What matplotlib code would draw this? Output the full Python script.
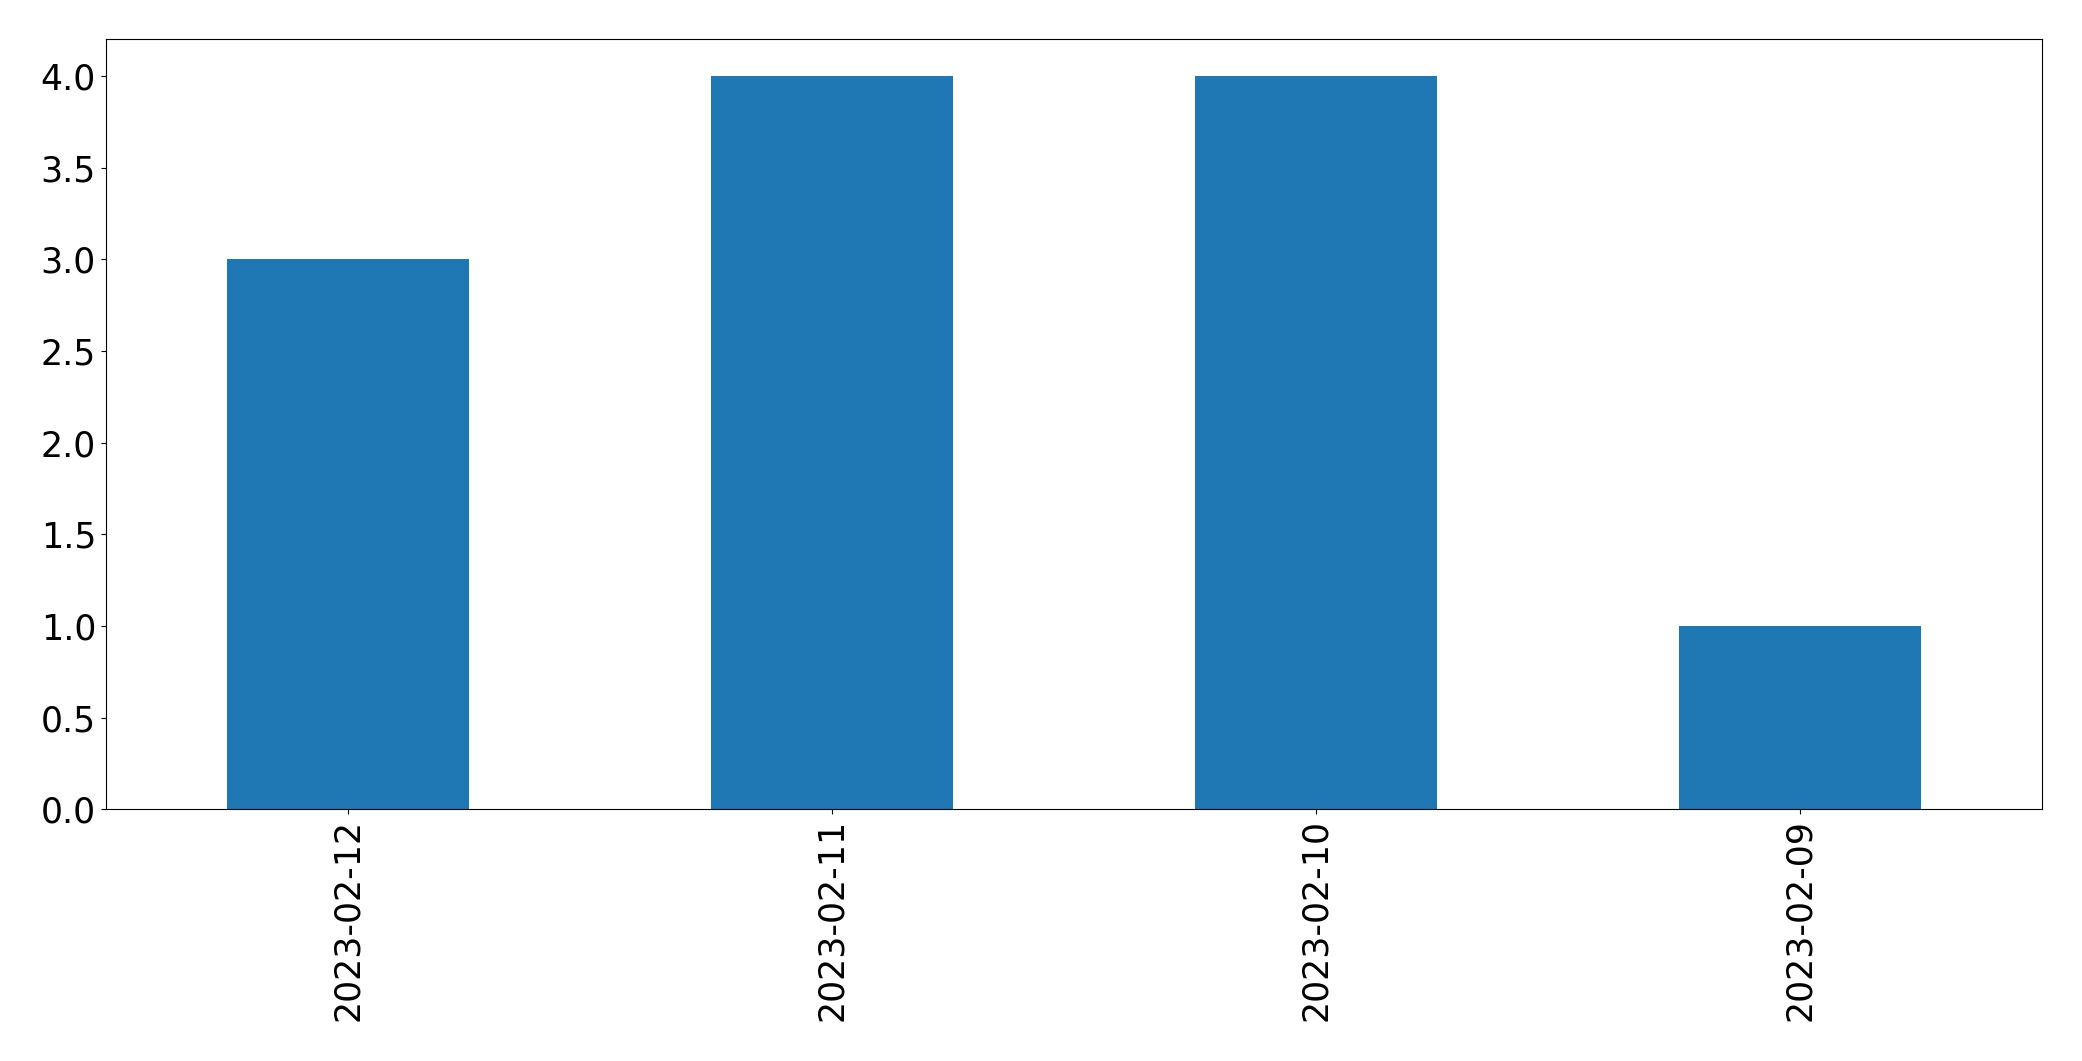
import matplotlib
matplotlib.use("Agg")
import matplotlib.pyplot as plt

dates = ["2023-02-12", "2023-02-11", "2023-02-10", "2023-02-09"]
counts = [3, 4, 4, 1]

fig = plt.figure(figsize=(20.82, 10.61), dpi=100)
ax = fig.add_axes([0.0508, 0.2372, 0.930, 0.7257])

x = range(len(dates))
ax.bar(x, counts, width=0.5, color="#1f77b4")
ax.set_xlim(-0.5, len(dates) - 0.5)
ax.set_ylim(0, 4.2)
ax.set_yticks([0, 0.5, 1, 1.5, 2, 2.5, 3, 3.5, 4])
ax.set_xticks(list(x))
ax.set_xticklabels(dates, rotation=90)
ax.tick_params(labelsize=25)

fig.savefig("out.png", dpi=100)
